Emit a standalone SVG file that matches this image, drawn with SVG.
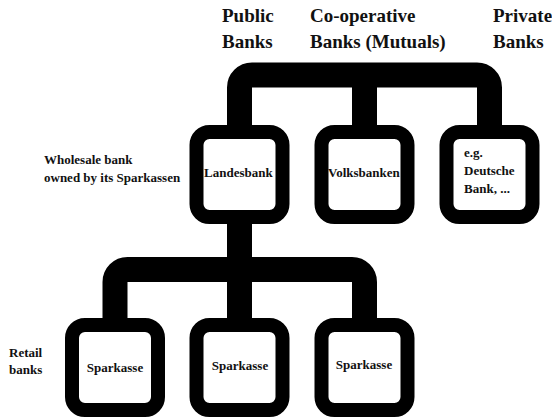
<svg xmlns="http://www.w3.org/2000/svg" width="552" height="417" viewBox="0 0 552 417">
<style>
text { font-family: "Liberation Serif", "Times New Roman", serif; font-weight: 700; fill: #111; }
.h { font-size: 19px; }
.t { font-size: 13px; }
.c { text-anchor: middle; }
.conn { fill: none; stroke: #000; stroke-width: 25; }
.box { fill: #fff; stroke: #000; stroke-width: 14; }
</style>
<rect width="552" height="417" fill="#fff"/>
<g id="connectors">
<path class="conn" d="M 239.5 130 V 87.5 A 12.5 12.5 0 0 1 252 75 H 477 A 12.5 12.5 0 0 1 489.5 87.5 V 130"/>
<path class="conn" d="M 364.5 75 V 130"/>
<path class="conn" d="M 239.5 220 V 323"/>
<path class="conn" d="M 115 323 V 282 A 12.5 12.5 0 0 1 127.5 269.5 H 352 A 12.5 12.5 0 0 1 364.5 282 V 323"/>
</g>
<g id="headers">
<text class="h" x="222" y="22">Public</text>
<text class="h" x="222" y="48">Banks</text>
<text class="h" x="310" y="22">Co-operative</text>
<text class="h" x="310" y="48">Banks (Mutuals)</text>
<text class="h" x="493" y="22">Private</text>
<text class="h" x="493" y="48">Banks</text>
</g>
<g id="wholesale-label">
<text class="t" x="44" y="164">Wholesale bank</text>
<text class="t" x="44" y="182">owned by its Sparkassen</text>
</g>
<g id="retail-label">
<text class="t" x="9" y="357">Retail</text>
<text class="t" x="9" y="374">banks</text>
</g>
<g id="landesbank">
<rect class="box" x="196.5" y="132" width="86" height="85" rx="13"/>
<text class="t" x="204" y="177">Landesbank</text>
</g>
<g id="volksbanken">
<rect class="box" x="321.5" y="132" width="86" height="85" rx="13"/>
<text class="t" x="328" y="177">Volksbanken</text>
</g>
<g id="private">
<rect class="box" x="446.5" y="132" width="86" height="85" rx="13"/>
<text class="t" x="464" y="157">e.g.</text>
<text class="t" x="464" y="175">Deutsche</text>
<text class="t" x="464" y="193">Bank, ...</text>
</g>
<g id="sparkasse1">
<rect class="box" x="72" y="325" width="86" height="85" rx="13"/>
<text class="t c" x="115" y="372">Sparkasse</text>
</g>
<g id="sparkasse2">
<rect class="box" x="196.5" y="325" width="86" height="85" rx="13"/>
<text class="t c" x="240" y="370">Sparkasse</text>
</g>
<g id="sparkasse3">
<rect class="box" x="321.5" y="325" width="86" height="85" rx="13"/>
<text class="t c" x="364" y="369">Sparkasse</text>
</g>
</svg>
